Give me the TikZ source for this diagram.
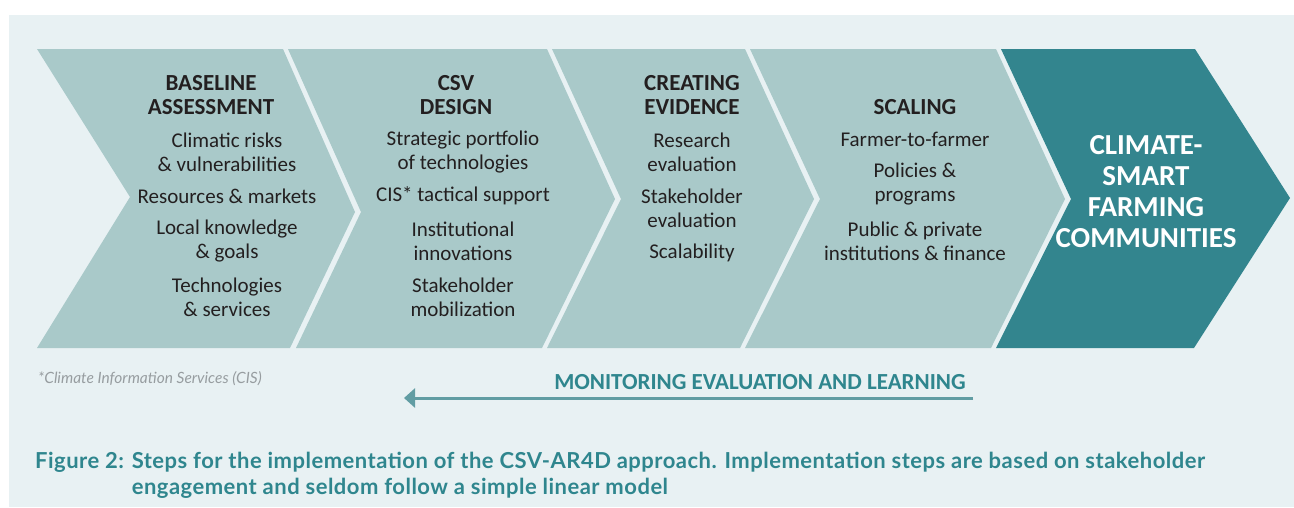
\documentclass[tikz,border=0pt]{standalone}
\usepackage{fontspec}
\setmainfont{Carlito}
\newfontfamily\capfont{Lato}
\newfontfamily\capwide[LetterSpace=2.2]{Lato}
\usetikzlibrary{arrows.meta}

\definecolor{panelbg}{HTML}{E8F1F3}
\definecolor{steplight}{HTML}{A9C9C9}
\definecolor{stepdark}{HTML}{33858E}
\definecolor{textdark}{HTML}{231F20}
\definecolor{teal}{HTML}{2F868E}
\definecolor{arrowteal}{HTML}{619DA3}
\definecolor{notegray}{HTML}{979DA0}

\begin{document}
\begin{tikzpicture}[x=1pt,y=-1pt]
   \tikzstyle{head} = [inner sep=0pt, align=center, text=textdark, font=\bfseries\fontsize{23}{24}\selectfont]
   \tikzstyle{item} = [inner sep=0pt, align=center, text=textdark, font=\fontsize{21}{24}\selectfont]
   \tikzstyle{goal} = [inner sep=0pt, align=center, text=white, font=\bfseries\fontsize{29}{31}\selectfont]

   \useasboundingbox (0,0) rectangle (1294,507);
   \fill[white] (0,0) rectangle (1294,507);
   \fill[panelbg] (9,15) rectangle (1294,507);

   % the five steps
   \fill[steplight] (37,49) -- (283,49) -- (355,212) -- (290,348) -- (37,348) -- (130,197) -- cycle;
   \fill[steplight] (288,49) -- (547,49) -- (615,199) -- (542,348) -- (296,348) -- (361,212) -- cycle;
   \fill[steplight] (552,49) -- (745,49) -- (814,199) -- (740,348) -- (547,348) -- (621,199) -- cycle;
   \fill[steplight] (750,49) -- (996,49) -- (1065,199) -- (991,348) -- (745,348) -- (820,199) -- cycle;
   \fill[stepdark] (1001,49) -- (1195,49) -- (1290,198) -- (1194,348) -- (996,348) -- (1071,199) -- cycle;

      \draw
        (211,95) node[head] (h1){BASELINE\\ASSESSMENT}
        (227,152) node[item] (i11){Climatic risks\\\& vulnerabilities}
        (227,196) node[item] (i12){Resources \& markets}
        (227,241) node[item] (i13){Local knowledge\\\& goals}
        (227,297) node[item] (i14){Technologies\\\& services}

        (456,95) node[head] (h2){CSV\\DESIGN}
        (463,152) node[item] (i21){Strategic portfolio\\of technologies}
        (463,196) node[item] (i22){CIS* tactical support}
        (463,241) node[item] (i23){Institutional\\innovations}
        (463,297) node[item] (i24){Stakeholder\\mobilization}

        (692,95) node[head] (h3){CREATING\\EVIDENCE}
        (692,152) node[item] (i31){Research\\evaluation}
        (692,208) node[item] (i32){Stakeholder\\evaluation}
        (692,253) node[item] (i33){Scalability}

        (915,107) node[head] (h4){SCALING}
        (915,139) node[item] (i41){Farmer-to-farmer}
        (915,184) node[item] (i42){Policies \&\\programs}
        (915,241) node[item] (i43){Public \& private\\institutions \& finance}

        (1146,192) node[goal] (g5){CLIMATE-\\SMART\\FARMING\\COMMUNITIES};

   % footnote, monitoring arrow, caption
   \node[inner sep=0pt, anchor=west, text=notegray, font=\capfont\itshape\fontsize{15.5}{18}\selectfont] (note) at (38,379) {*Climate Information Services (CIS)};
   \node[inner sep=0pt, text=teal, font=\bfseries\fontsize{23}{26}\selectfont] (mel) at (760,382) {MONITORING EVALUATION AND LEARNING};
   \coordinate (melR) at (973,398);
   \coordinate (melL) at (404,398);
   \draw[arrowteal, line width=3pt, -{Triangle[length=11pt,width=19pt]}] (melR) -- (melL);

   \node[inner sep=0pt, anchor=north west, text=teal, font=\capwide\bfseries\fontsize{22}{26}\selectfont] (cap) at (35,450)
     {\begin{tabular}{@{}l@{ }l@{}}Figure 2: & Steps for the implementation of the CSV-AR4D approach. Implementation steps are based on stakeholder\\
       & engagement and seldom follow a simple linear model\end{tabular}};
\end{tikzpicture}
\end{document}
